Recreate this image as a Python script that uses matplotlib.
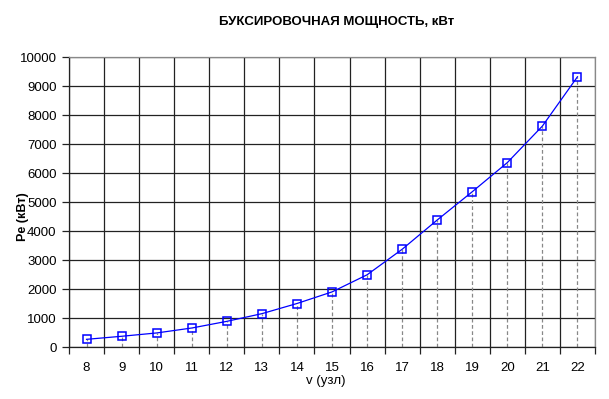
import numpy as np
import matplotlib.pyplot as plt
from matplotlib.ticker import FixedLocator

plt.rcParams['font.family'] = ['Liberation Sans', 'DejaVu Sans']

# speed (knots) and towing power (kW)
v = [8, 9, 10, 11, 12, 13, 14, 15, 16, 17, 18, 19, 20, 21, 22]
pe = [265, 370, 485, 655, 885, 1150, 1500, 1900, 2490, 3370, 4380, 5355, 6360, 7620, 9320]

fig = plt.figure(figsize=(6.09, 3.99), dpi=100)
ax = fig.add_axes([0.1133, 0.1303, 0.8637, 0.7267])

# dashed drop lines to the axis
ax.vlines(v, 0, pe, colors='#888888', linestyles=(0, (3, 2)), linewidth=0.9, zorder=2)

ax.plot(v, pe, color='#0000ff', linewidth=0.9, marker='s', markersize=5.5,
        markerfacecolor='none', markeredgecolor='#0000ff', markeredgewidth=1.1, zorder=3)

ax.set_xlim(7.5, 22.5)
ax.set_ylim(0, 10000)
ax.set_xticks(v)
ax.xaxis.set_minor_locator(FixedLocator(np.arange(7.5, 23, 1)))
ax.set_yticks(np.arange(0, 10001, 1000))

ax.grid(True, which='minor', axis='x', color='#222222', linewidth=0.9)
ax.grid(True, which='major', axis='y', color='#222222', linewidth=0.9)
ax.set_axisbelow(True)

ax.tick_params(axis='x', which='major', length=0, pad=11, labelsize=9.5)
ax.tick_params(axis='x', which='minor', length=5, width=0.9, color='#222222')
ax.tick_params(axis='y', length=5, width=0.9, color='#222222', pad=4, labelsize=9.5)

for s in ax.spines.values():
    s.set_color('#888888')
    s.set_linewidth(0.9)
ax.spines['left'].set_color('#222222')
ax.spines['bottom'].set_color('#222222')

fig.text(0.553, 0.945, 'БУКСИРОВОЧНАЯ МОЩНОСТЬ, кВт', ha='center', va='center',
         fontsize=9.5, fontweight='bold')
fig.text(0.038, 0.458, 'Pe (кВт)', ha='center', va='center', rotation=90,
         fontsize=9, fontweight='bold')
fig.text(0.535, 0.046, 'v (узл)', ha='center', va='center', fontsize=9.5)

fig.savefig('out.png', dpi=100)
